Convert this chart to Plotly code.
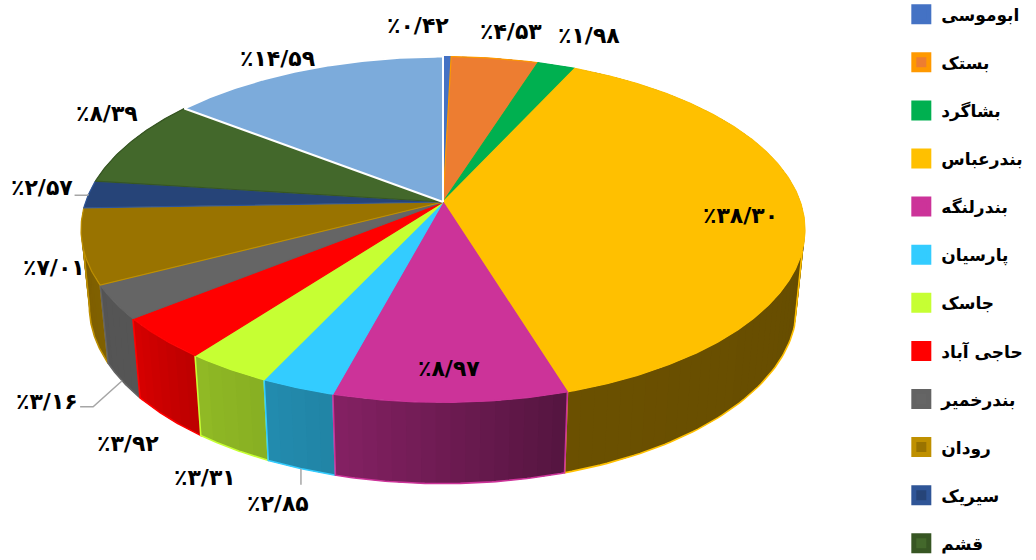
import math
import numpy as np
import plotly.graph_objects as go

categories = ["ابوموسی", "بستک", "بشاگرد", "بندرعباس", "بندرلنگه", "پارسیان", "جاسک",
              "حاجی آباد", "بندرخمیر", "رودان", "سیریک", "قشم", "میناب"]
values = [0.42, 4.53, 1.98, 38.30, 8.97, 2.85, 3.31, 3.92, 3.16, 7.01, 2.57, 8.39, 14.59]
labels = ["٪۰/۴۲", "٪۴/۵۳", "٪۱/۹۸", "٪۳۸/۳۰", "٪۸/۹۷", "٪۲/۸۵", "٪۳/۳۱", "٪۳/۹۲",
          "٪۳/۱۶", "٪۷/۰۱", "٪۲/۵۷", "٪۸/۳۹", "٪۱۴/۵۹"]
colors = ["#4472c4", "#ed7d31", "#00b050", "#ffc000", "#cc3399", "#33ccff", "#c6ff33",
          "#ff0000", "#656565", "#997300", "#264478", "#43682b", "#7cabdb"]
edge_colors = ["#4472c4", "#ff9900", "#00b050", "#ffc000", "#cc3399", "#33ccff", "#c6ff33",
               "#ff0000", "#636363", "#bf9000", "#2f5597", "#375623", "#ffffff"]
label_pos = [(418, 25), (511, 31), (589, 35), (740, 215), (449, 368), (278, 503), (205, 477),
             (128, 443), (47, 401), (54, 267), (42, 187), (107, 113), (277, 58)]

CX, CY, A, B, C = 443.0, 202.0, 357.4, -136.4, 0.159
BCY, T, S = 278.0, 1.026, 0.977
V0, V1, TAN = math.radians(99), math.radians(261), math.radians(7)


def top(theta):
    x, y = np.sin(theta), np.cos(theta)
    w = 1 + C * y
    return CX + A * x / w, (B * y + CY) / w


def bottom(theta):
    sx, sy = top(theta)
    return CX + (sx - CX) * S, BCY + (sy - CY) * T


def shade(theta):
    return np.interp(np.degrees(theta), [0, 90, 163, 195, 215, 232, 260, 360],
                     [.4, .4, .42, .65, .72, .85, .82, .82])


def scaled(hex_color, f):
    rgb = [int(hex_color[i:i + 2], 16) for i in (1, 3, 5)]
    return "rgb(%d,%d,%d)" % tuple(int(v * f) for v in rgb)


fractions = np.array(values) / sum(values)
ends = np.cumsum(fractions) * 2 * math.pi
starts = ends - fractions * 2 * math.pi

fig = go.Figure()
# side wall, painted from the back towards the viewer
order = sorted(range(len(values)), key=lambda i: -math.cos((starts[i] + ends[i]) / 2))
for i in order:
    a0, a1 = starts[i], ends[i]
    n = max(2, int(math.degrees(a1 - a0) / 2))
    grid = np.linspace(a0, a1, n + 1)
    step = grid[1] - grid[0]
    for g0, g1 in zip(grid[:-1], grid[1:]):
        th = np.linspace(g0, min(g1 + step * 0.6, a1), 5)
        tx, ty = top(th)
        bx, by = bottom(th)
        col = scaled(colors[i], shade((g0 + g1) / 2))
        fig.add_trace(go.Scatter(x=list(tx) + list(bx[::-1]) + [tx[0]],
                                 y=list(ty) + list(by[::-1]) + [ty[0]],
                                 mode="lines", fill="toself", fillcolor=col,
                                 line=dict(color=col, width=0), hoverinfo="skip",
                                 showlegend=False))
    lo, hi = max(a0, V0), min(a1, V1)
    if lo < hi:
        th = np.linspace(lo, hi, 60)
        tx0, ty0 = top(a0 if a0 >= V0 else V0 + TAN)
        tx1, ty1 = top(a1 if a1 <= V1 else V1 - TAN)
        bx, by = bottom(th)
        fig.add_trace(go.Scatter(x=[tx0] + list(bx) + [tx1], y=[ty0] + list(by) + [ty1],
                                 mode="lines", line=dict(color=edge_colors[i], width=1.6),
                                 hoverinfo="skip", showlegend=False))

# top face
for i in range(len(values)):
    th = np.linspace(starts[i], ends[i], max(3, int(math.degrees(ends[i] - starts[i]) * 2)))
    tx, ty = top(th)
    fig.add_trace(go.Scatter(x=[CX] + list(tx) + [CX], y=[CY] + list(ty) + [CY],
                             mode="lines", fill="toself", fillcolor=colors[i],
                             line=dict(color=edge_colors[i], width=1.2 if i < 12 else 2),
                             name=categories[i], hoverinfo="skip", showlegend=False))

# leader lines for three labels
leaders = {5: (0, 16, 0, 16), 8: (-29, 26, -42, 26), 10: (-1, 1, -14, 1)}
for i, (dx1, dy1, dx2, dy2) in leaders.items():
    mid = (starts[i] + ends[i]) / 2
    px, py = bottom(mid) if i != 10 else top(mid)
    fig.add_trace(go.Scatter(x=[px, px + dx1, px + dx2], y=[py, py + dy1, py + dy2], mode="lines",
                             line=dict(color="#a6a6a6", width=1.5), hoverinfo="skip", showlegend=False))

# legend entries (the thirteenth falls below the page in the reference)
for i in range(12):
    fig.add_trace(go.Scatter(x=[None], y=[None], mode="markers", name=categories[i],
                             legendgroup=categories[i],
                             marker=dict(symbol="square", size=15, color=colors[i],
                                         line=dict(color=edge_colors[i], width=5))))

for text, (lx, ly) in zip(labels, label_pos):
    fig.add_annotation(x=lx, y=ly, text="<b>%s</b>" % text, showarrow=False,
                       font=dict(family="DejaVu Sans", size=22, color="#000000"))

fig.update_layout(
    width=1036, height=560, margin=dict(l=0, r=0, t=0, b=0, autoexpand=False),
    paper_bgcolor="white", plot_bgcolor="white",
    xaxis=dict(range=[0, 1036], visible=False, fixedrange=True),
    yaxis=dict(range=[560, 0], visible=False, fixedrange=True),
    legend=dict(x=0.87, y=1.006, xanchor="left", yanchor="top", traceorder="grouped",
                tracegroupgap=23, itemsizing="trace", borderwidth=0, bgcolor="rgba(0,0,0,0)",
                maxheight=800,
                font=dict(family="DejaVu Sans", size=17, color="#000000", weight="bold")),
)
fig.write_html("out.html", post_script="document.body.style.margin='0';",
               config={"displayModeBar": False})
